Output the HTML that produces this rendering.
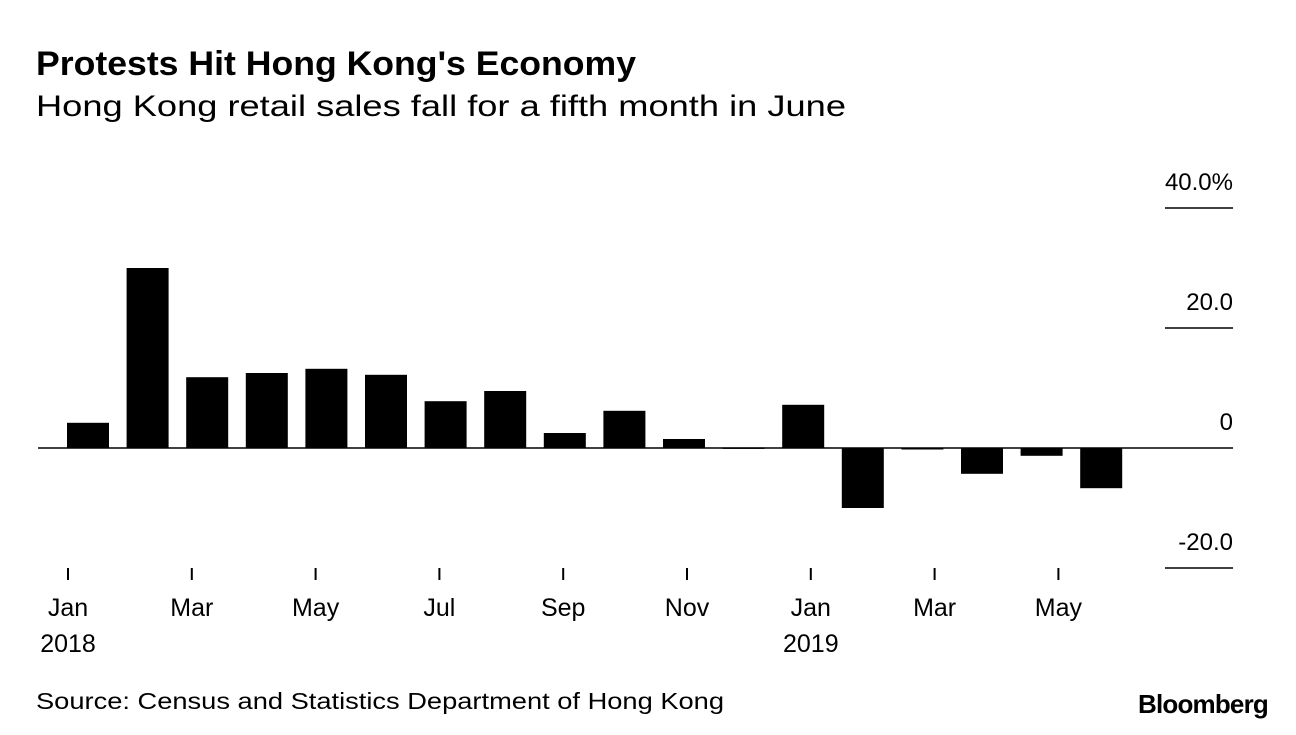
<!DOCTYPE html>
<html><head><meta charset="utf-8">
<style>
body{margin:0;background:#fff;width:1296px;height:730px;overflow:hidden;font-family:"Liberation Sans",sans-serif;}
</style></head>
<body>
<svg width="1296" height="730" xmlns="http://www.w3.org/2000/svg">
<text x="36" y="75" font-size="34" font-weight="bold" fill="#000" textLength="600" lengthAdjust="spacingAndGlyphs">Protests Hit Hong Kong's Economy</text>
<text x="36" y="116" font-size="30" fill="#000" textLength="810" lengthAdjust="spacingAndGlyphs">Hong Kong retail sales fall for a fifth month in June</text>
<g id="bars"></g>
<g id="axes"></g>
<text x="36" y="709" font-size="23" fill="#000" textLength="688" lengthAdjust="spacingAndGlyphs">Source: Census and Statistics Department of Hong Kong</text>
<text x="1268" y="713" font-size="26" font-weight="bold" text-anchor="end" letter-spacing="-0.8" fill="#000">Bloomberg</text>
</svg>
<script>
const months = ["Jan 2018","Feb 2018","Mar 2018","Apr 2018","May 2018","Jun 2018","Jul 2018","Aug 2018","Sep 2018","Oct 2018","Nov 2018","Dec 2018","Jan 2019","Feb 2019","Mar 2019","Apr 2019","May 2019","Jun 2019"];
const values = [4.2,30.0,11.8,12.5,13.2,12.2,7.8,9.5,2.5,6.2,1.5,0.1,7.2,-10.0,-0.2,-4.3,-1.3,-6.7];
const yTicks = [40,20,0,-20];
const yTickLabels = ["40.0%","20.0","0","-20.0"];
const xTickIdx = [0,2,4,6,8,10,12,14,16];
const xTickLabels = ["Jan","Mar","May","Jul","Sep","Nov","Jan","Mar","May"];
const xYearLabels = ["2018","","","","","","2019","",""];

const NS="http://www.w3.org/2000/svg";
const y = v => 448 - v*6;
const x = i => 67 + i*59.6;
const tx = i => 68 + i*61.9;
const bw = 42;
const bars=document.getElementById('bars'), axes=document.getElementById('axes');
function mk(tag,attrs,parent){const e=document.createElementNS(NS,tag);for(const k in attrs)e.setAttribute(k,attrs[k]);parent.appendChild(e);return e;}
values.forEach((v,i)=>{
  const top=Math.min(y(v),y(0)), h=Math.max(Math.abs(y(v)-y(0)),1.5);
  const r=mk('rect',{x:x(i),y:top,width:bw,height:h,fill:'#000'},bars);
  
  
});
const zl=mk('line',{x1:38,x2:1233,y1:y(0),y2:y(0),stroke:'#000','stroke-width':1.5},axes);


yTicks.forEach((t,i)=>{
  if(t!==0){
    const l=mk('line',{x1:1165,x2:1233,y1:y(t),y2:y(t),stroke:'#000','stroke-width':1.5},axes);
    
    
  }
  const t1=mk('text',{x:1233,y:y(t)-18,'font-size':24,'text-anchor':'end',fill:'#000'},axes);
  t1.textContent=yTickLabels[i];
  
  
});
xTickIdx.forEach((idx,i)=>{
  const px=tx(idx);
  const l=mk('line',{x1:px,x2:px,y1:568,y2:580,stroke:'#000','stroke-width':2},axes);
  
  
  const t=mk('text',{x:px,y:616,'font-size':25,'text-anchor':'middle',fill:'#000'},axes);
  t.textContent=xTickLabels[i];
  
  
  if(xYearLabels[i]){
    const t2=mk('text',{x:px,y:652,'font-size':25,'text-anchor':'middle',fill:'#000'},axes);
    t2.textContent=xYearLabels[i];
    
    
  }
});
</script>
</body></html>
